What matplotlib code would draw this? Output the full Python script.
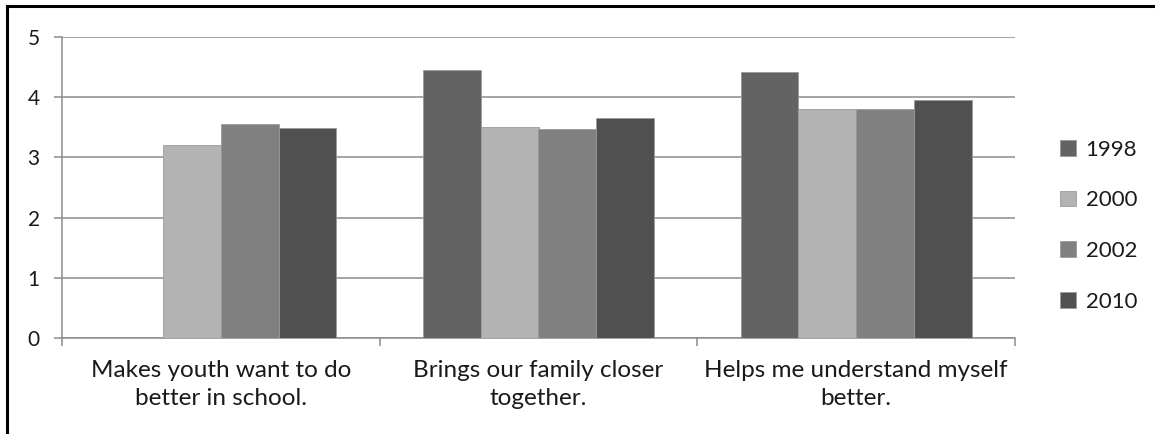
import numpy as np
import matplotlib
matplotlib.use("Agg")
import matplotlib.pyplot as plt
from matplotlib.lines import Line2D

categories = ["Makes youth want to do\nbetter in school.",
              "Brings our family closer\ntogether.",
              "Helps me understand myself\nbetter."]
years = ["1998", "2000", "2002", "2010"]
v1998 = [np.nan, 4.45, 4.42]
v2000 = [3.21, 3.50, 3.80]
v2002 = [3.55, 3.48, 3.80]
v2010 = [3.49, 3.65, 3.95]
colors = ["#636363", "#b3b3b3", "#808080", "#505050"]

plt.rcParams['font.family'] = ['Lato', 'DejaVu Sans']

fig = plt.figure(figsize=(11.55, 4.34), dpi=100)
ax = fig.add_axes([62/1155, 1-338/434, (1015-62)/1155, (338-37)/434])

series = [v1998, v2000, v2002, v2010]
w = 1/5.5
x = np.arange(len(categories))
for i, (vals, c, lab) in enumerate(zip(series, colors, years)):
    ax.bar(x + (i - 1.5)*w, vals, w, color=c, label=lab,
           edgecolor="#9a9a9a", linewidth=0.6, zorder=3)

ax.set_xlim(-0.5, 2.5)
ax.set_ylim(0, 5)
ax.set_yticks(range(6))
ax.yaxis.grid(True, color="#8c8c8c", linewidth=1.1, zorder=0)
for s in ["top", "right"]:
    ax.spines[s].set_visible(False)
for s in ["left", "bottom"]:
    ax.spines[s].set_color("#8c8c8c")
    ax.spines[s].set_linewidth(1.1)

ax.set_xticks(x)
ax.set_xticklabels(categories, fontsize=17.5, color="#1a1a1a", linespacing=1.38)
ax.tick_params(axis="x", length=0, pad=16)
ax.set_xticks([-0.5, 0.5, 1.5, 2.5], minor=True)
ax.tick_params(axis="x", which="minor", length=6, color="#8c8c8c", width=1.1)
ax.tick_params(axis="y", length=6, color="#8c8c8c", width=1.1, labelsize=15,
               labelcolor="#1a1a1a", pad=10)

ax.legend(loc="center left", bbox_to_anchor=(1040/1155, 0.48), bbox_transform=fig.transFigure,
          frameon=False, fontsize=16, handlelength=0.7, handleheight=0.7,
          handletextpad=0.45, labelspacing=1.38, labelcolor="#1a1a1a")

# outer frame (top and left only)
fig.add_artist(Line2D([7/1155, 7/1155], [0, 1-6/434], transform=fig.transFigure,
                      color="black", linewidth=2.2))
fig.add_artist(Line2D([7/1155, 1], [1-6/434, 1-6/434], transform=fig.transFigure,
                      color="black", linewidth=2.2))

fig.savefig("out.png", dpi=100)
